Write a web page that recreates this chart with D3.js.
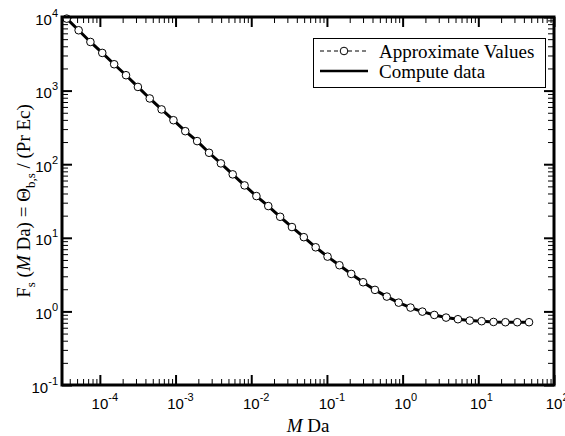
<!DOCTYPE html>
<html>
<head>
<meta charset="utf-8">
<script src="https://cdn.jsdelivr.net/npm/d3@7"></script>
<style>
  body { margin: 0; background: #fff; }
  svg { display: block; }
  .tick-label { font-family: "Liberation Sans", Arial, sans-serif; font-size: 15px; fill: #000; }
  .serif { font-family: "Liberation Serif", "Times New Roman", serif; font-size: 19px; fill: #000; }
</style>
</head>
<body>
<svg id="chart" width="565" height="436"></svg>
<script>
// M Da values of the points
const daValues = [
  3.65e-5, 5.24e-5, 7.50e-5, 1.076e-4, 1.545e-4, 2.215e-4, 3.18e-4, 4.56e-4, 6.54e-4, 9.38e-4,
  1.344e-3, 1.928e-3, 2.77e-3, 3.97e-3, 5.69e-3, 8.16e-3, 1.170e-2, 1.679e-2, 2.41e-2, 3.45e-2,
  4.95e-2, 7.10e-2, 0.1019, 0.1462, 0.2096, 0.3006, 0.431, 0.618, 0.887, 1.271,
  1.823, 2.62, 3.75, 5.38, 7.71, 11.07, 15.88, 22.8, 32.7, 46.8,
];
// F_s values, approximate (circles) and computed (solid line)
const approxValues = [
  9500, 6607, 4581, 3251, 2280, 1618, 1122, 782, 555, 396,
  281, 206, 143, 102.6, 72.8, 51.5, 36.9, 27.0, 19.3, 14.0,
  10.2, 7.43, 5.55, 4.24, 3.23, 2.49, 1.96, 1.59, 1.315, 1.127,
  0.993, 0.895, 0.824, 0.783, 0.750, 0.736, 0.719, 0.713, 0.713, 0.713,
];
const computeValues = [
  9500, 6607, 4581, 3251, 2280, 1618, 1122, 782, 555, 396,
  281, 206, 143, 102.6, 72.8, 51.5, 36.9, 27.0, 19.3, 14.0,
  10.2, 7.43, 5.55, 4.24, 3.23, 2.49, 1.96, 1.59, 1.315, 1.127,
  0.993, 0.895, 0.824, 0.783, 0.750, 0.736, 0.719, 0.713, 0.713, 0.713,
];
const xMajor = [1e-4, 1e-3, 1e-2, 1e-1, 1, 10, 100];
const xExp = ['-4', '-3', '-2', '-1', '0', '1', '2'];
const yMajor = [1e-1, 1, 10, 100, 1000, 10000];
const yExp = ['-1', '0', '1', '2', '3', '4'];
const legendNames = ['Approximate Values', 'Compute data'];

const svg = d3.select('#chart');
const x0 = 62;
const x1 = 554;
const y0 = 17;
const y1 = 385;

const x = d3.scaleLog().domain([3.16e-5, 100]).range([x0, x1]);
const y = d3.scaleLog().domain([0.1, 1e4]).range([y1, y0]);

const pow10 = (d) => Math.abs(Math.log10(d) - Math.round(Math.log10(d))) < 1e-9;
const xMinor = x.ticks().filter((d) => !pow10(d));
const yMinor = y.ticks().filter((d) => !pow10(d));

// inward ticks on all four sides
function drawTicks(axis, transform, values, size, width) {
  const g = svg.append('g')
    .attr('transform', transform)
    .call(axis.tickValues(values).tickSize(-size).tickFormat(''));
  g.select('.domain').remove();
  g.selectAll('.tick line')
    .attr('stroke', '#000')
    .attr('stroke-width', width);
}

drawTicks(d3.axisBottom(x), `translate(0,${y1})`, xMinor, 6, 1);
drawTicks(d3.axisBottom(x), `translate(0,${y1})`, xMajor, 10, 2);
drawTicks(d3.axisTop(x), `translate(0,${y0})`, xMinor, 6, 1);
drawTicks(d3.axisTop(x), `translate(0,${y0})`, xMajor, 10, 2);
drawTicks(d3.axisLeft(y), `translate(${x0},0)`, yMinor, 6, 1);
drawTicks(d3.axisLeft(y), `translate(${x0},0)`, yMajor, 10, 2);
drawTicks(d3.axisRight(y), `translate(${x1},0)`, yMinor, 6, 1);
drawTicks(d3.axisRight(y), `translate(${x1},0)`, yMajor, 10, 2);

// tick labels
const xl = svg.append('g').selectAll('text')
  .data(xMajor)
  .enter()
  .append('text')
  .attr('class', 'tick-label')
  .attr('x', (d) => x(d) - 8.3)
  .attr('y', y1 + 24);
xl.append('tspan').text('10');
xl.append('tspan')
  .attr('dy', -8)
  .attr('font-size', 11)
  .text((d, i) => xExp[i]);

const yl = svg.append('g').selectAll('text')
  .data(yMajor)
  .enter()
  .append('text')
  .attr('class', 'tick-label')
  .attr('text-anchor', 'end')
  .attr('x', x0 - 4)
  .attr('y', (d) => y(d) + 7.5);
yl.append('tspan').text('10');
yl.append('tspan')
  .attr('dy', -8)
  .attr('font-size', 11)
  .text((d, i) => yExp[i]);

// curves
const pts = daValues.map((d, i) => ({ x: d, a: approxValues[i], c: computeValues[i] }));

svg.append('path')
  .datum(pts)
  .attr('fill', 'none')
  .attr('stroke', '#000')
  .attr('stroke-width', 3)
  .attr('d', d3.line().x((d) => x(d.x)).y((d) => y(d.c)));

svg.append('path')
  .datum(pts)
  .attr('fill', 'none')
  .attr('stroke', '#000')
  .attr('stroke-width', 1)
  .attr('stroke-dasharray', '4,3')
  .attr('d', d3.line().x((d) => x(d.x)).y((d) => y(d.a)));

svg.append('g').selectAll('circle')
  .data(pts)
  .enter()
  .append('circle')
  .attr('cx', (d) => x(d.x))
  .attr('cy', (d) => y(d.a))
  .attr('r', 3.8)
  .attr('fill', '#fff')
  .attr('stroke', '#000')
  .attr('stroke-width', 1);

// frame
svg.append('rect')
  .attr('x', x0)
  .attr('y', y0)
  .attr('width', x1 - x0)
  .attr('height', y1 - y0)
  .attr('fill', 'none')
  .attr('stroke', '#000')
  .attr('stroke-width', 3);

// axis titles
const xt = svg.append('text')
  .attr('class', 'serif')
  .attr('text-anchor', 'middle')
  .attr('x', (x0 + x1) / 2)
  .attr('y', 432);
xt.append('tspan').attr('font-style', 'italic').text('M');
xt.append('tspan').text(' Da');

const yt = svg.append('text')
  .attr('class', 'serif')
  .attr('text-anchor', 'middle')
  .attr('transform', `translate(30,${(y0 + y1) / 2}) rotate(-90)`);
yt.append('tspan').text('F');
yt.append('tspan').attr('font-size', 13).attr('dy', 5).text('s');
yt.append('tspan').attr('dy', -5).text(' (');
yt.append('tspan').attr('font-style', 'italic').text('M');
yt.append('tspan').text(' Da) = \u0398');
yt.append('tspan').attr('font-size', 13).attr('dy', 5).text('b,s');
yt.append('tspan').attr('dy', -5).text(' / (Pr Ec)');

// legend
const legend = svg.append('g');
legend.append('rect')
  .attr('x', 313.5)
  .attr('y', 38.5)
  .attr('width', 232)
  .attr('height', 49)
  .attr('fill', '#fff')
  .attr('stroke', '#000')
  .attr('stroke-width', 1);

const rows = legend.selectAll('g.row')
  .data(legendNames)
  .enter()
  .append('g')
  .attr('class', 'row')
  .attr('transform', (d, i) => `translate(320,${51 + i * 20})`);

rows.append('line')
  .attr('x1', 0)
  .attr('x2', 48)
  .attr('stroke', '#000')
  .attr('stroke-width', (d, i) => (i === 0 ? 1 : 2.5))
  .attr('stroke-dasharray', (d, i) => (i === 0 ? '4,3' : null));

rows.filter((d, i) => i === 0)
  .append('circle')
  .attr('cx', 24)
  .attr('r', 3.8)
  .attr('fill', '#fff')
  .attr('stroke', '#000');

rows.append('text')
  .attr('class', 'serif')
  .attr('x', 59)
  .attr('y', 6.5)
  .text((d) => d);
</script>
</body>
</html>
